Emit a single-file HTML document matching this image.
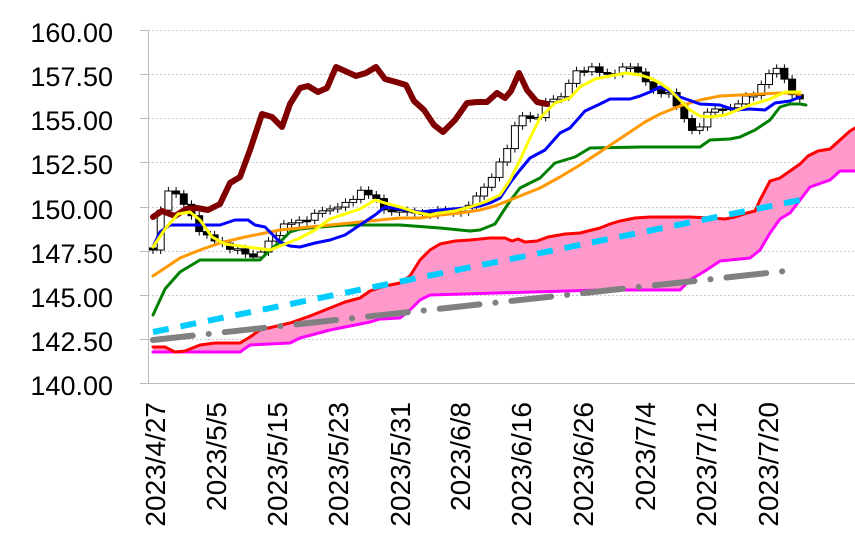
<!DOCTYPE html>
<html><head><meta charset="utf-8"><style>
html,body{margin:0;padding:0;background:#fff;overflow:hidden;}
svg{display:block;font-family:"Liberation Sans",sans-serif;}
</style></head><body>
<svg id="s" width="855" height="547" viewBox="0 0 855 547">
<g stroke="#c8c8c8" stroke-width="1" stroke-dasharray="2,2">
<line x1="148" x2="855" y1="30.5" y2="30.5"/><line x1="148" x2="855" y1="74.5" y2="74.5"/>
<line x1="148" x2="855" y1="118.5" y2="118.5"/><line x1="148" x2="855" y1="162.5" y2="162.5"/>
<line x1="148" x2="855" y1="207.5" y2="207.5"/><line x1="148" x2="855" y1="251.5" y2="251.5"/>
<line x1="148" x2="855" y1="295.5" y2="295.5"/><line x1="148" x2="855" y1="339.5" y2="339.5"/>
</g>
<g stroke="#bbb"><line x1="140" x2="149" y1="30.5" y2="30.5"/><line x1="140" x2="149" y1="74.5" y2="74.5"/><line x1="140" x2="149" y1="118.5" y2="118.5"/><line x1="140" x2="149" y1="162.5" y2="162.5"/><line x1="140" x2="149" y1="207.5" y2="207.5"/><line x1="140" x2="149" y1="251.5" y2="251.5"/><line x1="140" x2="149" y1="295.5" y2="295.5"/><line x1="140" x2="149" y1="339.5" y2="339.5"/></g>
<line x1="148.5" x2="148.5" y1="30" y2="384" stroke="#bbb"/>
<line x1="140" x2="855" y1="383.5" y2="383.5" stroke="#bbb"/>
<g font-size="27" text-anchor="end" fill="#000">
<text x="113" y="42">160.00</text><text x="113" y="86">157.50</text><text x="113" y="130">155.00</text>
<text x="113" y="174">152.50</text><text x="113" y="219">150.00</text><text x="113" y="263">147.50</text>
<text x="113" y="307">145.00</text><text x="113" y="351">142.50</text><text x="113" y="395">140.00</text>
</g>
<g font-size="28" text-anchor="end">
<text transform="translate(165,402) rotate(-90)">2023/4/27</text>
<text transform="translate(226,402) rotate(-90)">2023/5/5</text>
<text transform="translate(287,402) rotate(-90)">2023/5/15</text>
<text transform="translate(348,402) rotate(-90)">2023/5/23</text>
<text transform="translate(410,402) rotate(-90)">2023/5/31</text>
<text transform="translate(470,402) rotate(-90)">2023/6/8</text>
<text transform="translate(531,402) rotate(-90)">2023/6/16</text>
<text transform="translate(593,402) rotate(-90)">2023/6/26</text>
<text transform="translate(655,402) rotate(-90)">2023/7/4</text>
<text transform="translate(716,402) rotate(-90)">2023/7/12</text>
<text transform="translate(778,402) rotate(-90)">2023/7/20</text>
</g>
<polygon fill="#ff99cc" points="153,347 165,347 175,352 185,351 200,345 215,343 240,343 250,337 260,330 290,323 310,316 330,308 345,302 360,298 370,291 385,286 400,283 410,276 420,260 430,250 440,244 455,241 470,240 490,238 505,238 512,241 518,239 525,242 537,241 548,237 565,234 580,233 592,230 600,228 610,224 620,221 635,218 650,217 690,217 710,218 725,219 735,217 747,213 755,211 760,200 770,181 780,178 790,171 800,164 808,156 818,151 830,149 840,140 850,131 855,128 855,171 840,171 830,180 810,187 800,200 790,213 780,219 770,233 760,250 750,258 720,261 705,271 690,280 680,290 600,290 430,295 420,300 410,310 400,318 380,319 370,322 350,326 330,330 300,338 290,343 250,345 240,352 153,352"/>
<g fill="none" stroke-linejoin="round" stroke-linecap="round">
<polyline stroke="#ff00ff" stroke-width="3" points="153,352 240,352 250,345 290,343 300,338 330,330 350,326 370,322 380,319 400,318 410,310 420,300 430,295 600,290 680,290 690,280 705,271 720,261 750,258 760,250 770,233 780,219 790,213 800,200 810,187 830,180 840,171 855,171"/>
<polyline stroke="#ff0000" stroke-width="3" points="153,347 165,347 175,352 185,351 200,345 215,343 240,343 250,337 260,330 290,323 310,316 330,308 345,302 360,298 370,291 385,286 400,283 410,276 420,260 430,250 440,244 455,241 470,240 490,238 505,238 512,241 518,239 525,242 537,241 548,237 565,234 580,233 592,230 600,228 610,224 620,221 635,218 650,217 690,217 710,218 725,219 735,217 747,213 755,211 760,200 770,181 780,178 790,171 800,164 808,156 818,151 830,149 840,140 850,131 855,128"/>
<line x1="153" y1="332" x2="800" y2="200" stroke="#00ccff" stroke-width="6" stroke-dasharray="16,12" stroke-linecap="butt"/>
<line x1="153" y1="340" x2="795" y2="270" stroke="#808080" stroke-width="6" stroke-dasharray="40,16,0.1,16"/>
</g>
<g id="candles"></g>
<g fill="none" stroke-linejoin="round" stroke-linecap="round">
<polyline stroke="#800000" stroke-width="6" points="153,217 162,211 175,216 186,209 197,208 208,210 220,204 230,183 240,177 250,150 262,114 272,117 282,127 290,104 300,88 308,86 318,92 327,88 336,67 345,71 356,76 366,73 376,67 385,79 396,82 406,85 414,101 424,110 434,125 443,132 455,120 467,103 477,102 487,102 497,93 505,98 511,91 519,73 527,90 537,102 547,104"/>
<polyline stroke="#008000" stroke-width="3" points="153,315 165,289 180,272 200,260 225,260 260,260 270,250 280,242 290,232 300,229 320,227 345,225 400,225 440,228 470,231 480,230 495,224 510,201 520,188 530,183 540,178 555,163 575,157 590,148 640,147 700,147 710,140 730,139 740,137 755,130 770,120 780,107 790,104 800,104 806,105"/>
<polyline stroke="#ff9900" stroke-width="3" points="153,276 165,268 180,258 200,250 220,243 245,237 265,233 280,230 300,228 330,225 360,222 380,220 400,218 420,218 440,215 460,213 480,210 495,206 510,200 525,194 540,188 560,177 580,165 600,152 615,142 630,132 645,122 660,114 680,106 700,100 720,96 740,95 760,94 780,93 795,93 800,95"/>
<polyline stroke="#0000ff" stroke-width="3" points="153,247 160,232 170,225 185,225 220,225 235,220 248,220 255,225 265,227 280,242 290,246 300,247 315,243 330,240 345,235 360,225 375,215 385,207 400,209 420,212 440,210 465,208 480,206 490,203 500,198 510,183 520,170 530,158 545,150 560,133 570,128 585,111 600,104 610,99 630,99 640,96 650,92 660,87 670,91 680,97 700,104 720,105 735,110 750,109 765,110 775,103 790,101 800,97"/>
<polyline stroke="#ffff00" stroke-width="3" points="153,247 165,229 178,214 190,212 200,220 212,237 225,244 240,246 255,248 270,250 285,244 300,238 315,230 330,219 345,214 360,209 375,200 385,203 400,207 415,212 430,215 440,213 455,211 470,207 485,202 500,195 510,180 520,160 530,138 540,118 555,103 570,98 580,87 595,79 610,76 626,73 640,75 650,78 660,83 670,90 680,100 690,110 700,116 710,117 725,115 740,109 750,105 770,99 785,92 800,92"/>
</g>
</svg>
<script>
var k=[[153,248],[160,215],[170,190],[180,198],[190,212],[200,230],[210,240],[220,242],[235,250],[250,260],[258,255],[270,238],[285,225],[300,220],[320,215],[340,205],[360,192],[375,197],[390,215],[410,212],[430,212],[450,212],[470,208],[490,180],[500,160],[510,140],[520,115],[535,120],[545,105],[560,100],[575,70],[590,68],[605,75],[620,70],[635,70],[650,85],[670,95],[690,128],[700,130],[710,110],[720,110],[740,100],[755,95],[770,70],[780,72],[790,95],[800,98]];
function f(x){for(var i=1;i<k.length;i++){if(x<=k[i][0]){var a=k[i-1],b=k[i];return a[1]+(b[1]-a[1])*(x-a[0])/(b[0]-a[0]);}}return k[k.length-1][1];}
var g=document.getElementById('candles'),h='',prev=f(153);
for(var x=153;x<=801;x+=7.7){var c=f(x)+((Math.round(x)*37)%7-3);var o=prev;var t=Math.min(o,c),b=Math.max(o,c);if(b-t<1.5)b=t+1.5;
h+='<line x1="'+x+'" x2="'+x+'" y1="'+(t-4)+'" y2="'+(b+4)+'" stroke="#000" stroke-width="1"/>';
h+='<rect x="'+(x-3.5)+'" y="'+t+'" width="7" height="'+(b-t)+'" fill="'+(c>o?'#000':'#fff')+'" stroke="#000" stroke-width="1"/>';prev=c;}
g.innerHTML=h;
</script>
</body></html>
